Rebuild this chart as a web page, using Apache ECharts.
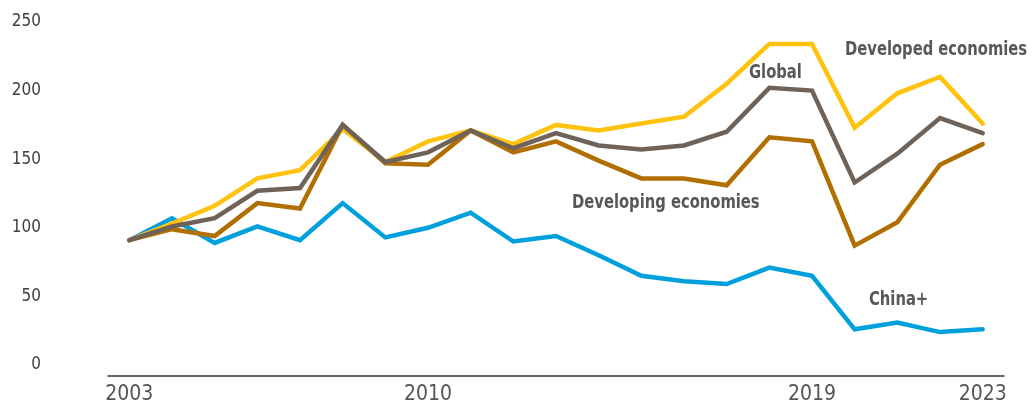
<!DOCTYPE html>
<html>
<head>
<meta charset="utf-8">
<script src="https://cdn.jsdelivr.net/npm/echarts@6/dist/echarts.min.js"></script>
<style>
  html, body { margin: 0; padding: 0; background: #fff; }
  #chart { width: 1036px; height: 405px; }
</style>
</head>
<body>
<div id="chart"></div>
<script>
const years = ['2003', '2004', '2005', '2006', '2007', '2008', '2009', '2010', '2011', '2012',
  '2013', '2014', '2015', '2016', '2017', '2018', '2019', '2020', '2021', '2022', '2023']
const shownYears = ['2003', '2010', '2019', '2023']

const developed = [91, 103, 116, 136, 142, 172, 148, 163, 171, 161, 175, 171, 176, 181, 205, 234, 234, 173, 198, 210, 176]
const globalIdx = [91, 101, 107, 127, 129, 175, 148, 155, 171, 158, 169, 160, 157, 160, 170, 202, 200, 133, 154, 180, 169]
const developing = [91, 99, 94, 118, 114, 175, 147, 146, 171, 155, 163, 149, 136, 136, 131, 166, 163, 87, 104, 146, 161]
const chinaPlus = [91, 107, 89, 101, 91, 118, 93, 100, 111, 90, 94, 80, 65, 61, 59, 71, 65, 26, 31, 24, 26]

const labelFont = "'DejaVu Sans Condensed', 'Liberation Sans Narrow', sans-serif"

const chart = echarts.init(document.getElementById('chart'))

const lineSeries = (name, data, color) => ({
  name,
  type: 'line',
  data,
  symbol: 'none',
  lineStyle: { width: 4.5, color, cap: 'round', join: 'miter' },
  itemStyle: { color },
  emphasis: { disabled: true }
})

// series name labels, squeezed to look like a condensed bold face
const note = (text, x, y) => ({
  type: 'text',
  x,
  y,
  scaleX: 0.82,
  style: {
    text,
    fill: '#58585a',
    font: 'bold 20px ' + labelFont,
    textVerticalAlign: 'middle'
  }
})

const option = {
  animation: false,
  grid: { left: 108, right: 32, top: 22, bottom: 40, outerBoundsMode: 'none' },
  xAxis: {
    type: 'category',
    data: years,
    boundaryGap: true,
    offset: 11,
    axisLine: { onZero: false, lineStyle: { color: '#333', width: 1.5 } },
    axisTick: { show: false },
    axisLabel: {
      interval: (i, v) => shownYears.includes(v),
      color: '#555',
      fontSize: 21,
      fontFamily: labelFont,
      margin: 8
    }
  },
  yAxis: {
    type: 'value',
    min: 0,
    max: 250,
    interval: 50,
    axisLine: { show: false },
    axisTick: { show: false },
    splitLine: { show: false },
    axisLabel: {
      color: '#404040',
      fontSize: 17,
      fontFamily: labelFont,
      margin: 67,
      padding: [5, 0, 0, 0]
    }
  },
  series: [
    lineSeries('China+', chinaPlus, '#00a0dc'),
    lineSeries('Developed economies', developed, '#ffc20e'),
    lineSeries('Developing economies', developing, '#b06f00'),
    lineSeries('Global', globalIdx, '#6f6359')
  ],
  graphic: [
    note('Developed economies', 845, 50),
    note('Global', 749, 73),
    note('Developing economies', 572, 203),
    note('China+', 869, 300)
  ]
}

chart.setOption(option)
</script>
</body>
</html>
